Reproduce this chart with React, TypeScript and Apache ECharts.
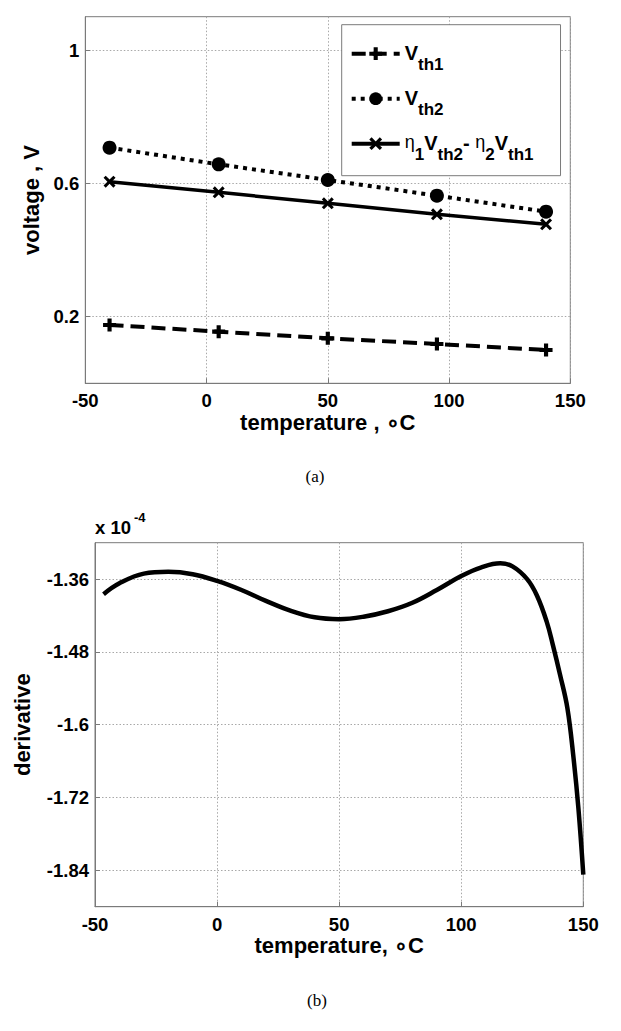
import { useEffect, useRef } from "react";
import * as echarts from "echarts";

// ---------- data: chart (a) ----------
const temps = [-40, 5, 50, 95, 140];
const vth1 = [0.175, 0.155, 0.135, 0.118, 0.1];
const vth2 = [0.707, 0.657, 0.61, 0.563, 0.515];
const combo = [0.605, 0.573, 0.54, 0.507, 0.477];
const xTicks = [-50, 0, 50, 100, 150];
const voltTicks = [0.2, 0.6, 1];

// ---------- data: chart (b) (values in units of 1e-4) ----------
const derivT = [-46.5, -40, -30, -20, -10, 0, 10, 20, 30, 40, 50, 60, 70, 80, 90, 100, 108, 116, 121, 127, 131, 135, 137.5, 140.5, 143.5, 146, 148, 150];
const derivV = [-1.385, -1.367, -1.351, -1.348, -1.352, -1.363, -1.378, -1.396, -1.412, -1.423, -1.426, -1.422, -1.413, -1.399, -1.378, -1.355, -1.341, -1.334, -1.339, -1.36, -1.387, -1.43, -1.468, -1.518, -1.573, -1.655, -1.738, -1.847];
const derivTicks = [-1.84, -1.72, -1.6, -1.48, -1.36];

const FONT = "'Liberation Sans', Arial, Helvetica, sans-serif";
const FRAME = "#7a7a7a";
const GRIDC = "#a8a8a8";

const PLUS = "path://M3.4,0H6.6V3.4H10V6.6H6.6V10H3.4V6.6H0V3.4H3.4Z";
const CROSS = "path://M0,1.8L1.8,0L5,3.2L8.2,0L10,1.8L6.8,5L10,8.2L8.2,10L5,6.8L1.8,10L0,8.2L3.2,5Z";

const legendText: Record<string, string> = {
  Vth1: "{v|V}{s|th1}",
  Vth2: "{v|V}{s|th2}",
  Combo: "{e|η}{n|1}{v|V}{s|th2}{v|- }{e|η}{n|2}{v|V}{s|th1}",
};

function axisCommon(name: string, gap: number) {
  return {
    name,
    nameLocation: "middle",
    nameGap: gap,
    nameTextStyle: { fontFamily: FONT, fontWeight: "bold", fontSize: 22, color: "#000" },
    axisLine: { show: true, onZero: false, lineStyle: { color: FRAME, width: 1 } },
    axisTick: { show: true, inside: true, length: 5, lineStyle: { color: FRAME } },
    splitLine: { show: true, lineStyle: { color: GRIDC, width: 1, type: [1.5, 2] } },
  };
}

export default function App() {
  const ref = useRef<HTMLDivElement>(null);
  useEffect(() => {
    if (!ref.current) return;
    const chart = echarts.init(ref.current, null, { renderer: "svg" });
    const labelStyle = { fontFamily: FONT, fontWeight: "bold", fontSize: 18.5, color: "#000" };
    const option: any = {
      animation: false,
      backgroundColor: "#fff",
      grid: [
        { left: 85.3, top: 16.7, width: 485, height: 366.6, show: true, borderColor: FRAME, borderWidth: 1, outerBoundsMode: "none" },
        { left: 95, top: 542.7, width: 488.3, height: 364, show: true, borderColor: FRAME, borderWidth: 1, outerBoundsMode: "none" },
      ],
      xAxis: [
        {
          ...axisCommon("temperature , ∘C", 22),
          gridIndex: 0, type: "value", min: xTicks[0], max: xTicks[xTicks.length - 1], interval: 50,
          axisLabel: { ...labelStyle, margin: 8 },
        },
        {
          ...axisCommon("temperature, ∘C", 22),
          gridIndex: 1, type: "value", min: xTicks[0], max: xTicks[xTicks.length - 1], interval: 50,
          axisLabel: { ...labelStyle, margin: 8 },
        },
      ],
      yAxis: [
        {
          ...axisCommon("voltage , V", 40),
          gridIndex: 0, type: "value", min: 0, max: 1.1,
          axisLabel: { ...labelStyle, margin: 6, customValues: voltTicks },
          axisTick: { show: true, inside: true, length: 5, lineStyle: { color: FRAME }, customValues: voltTicks },
        },
        {
          ...axisCommon("derivative", 62),
          gridIndex: 1, type: "value", min: -1.9, max: -1.3,
          axisLabel: { ...labelStyle, margin: 6, customValues: derivTicks },
          axisTick: { show: true, inside: true, length: 5, lineStyle: { color: FRAME }, customValues: derivTicks },
        },
      ],
      legend: {
        orient: "vertical",
        left: 341.7,
        top: 24.7,
        padding: [18, 27, 13, 8],
        itemGap: 15,
        itemWidth: 48,
        itemHeight: 16,
        backgroundColor: "#fff",
        borderColor: FRAME,
        borderWidth: 1,
        lineStyle: { width: 4 },
        data: ["Vth1", "Vth2", "Combo"],
        formatter: (name: string) => legendText[name],
        textStyle: {
          color: "#000",
          rich: {
            v: { fontFamily: FONT, fontWeight: "bold", fontSize: 20, lineHeight: 22, verticalAlign: "top", color: "#000" },
            s: { fontFamily: FONT, fontWeight: "bold", fontSize: 17, lineHeight: 16, verticalAlign: "top", padding: [13, 0, 0, 0], color: "#000" },
            e: { fontFamily: FONT, fontWeight: "normal", fontSize: 18, lineHeight: 22, verticalAlign: "top", color: "#000" },
            n: { fontFamily: FONT, fontWeight: "bold", fontSize: 17, lineHeight: 16, verticalAlign: "top", padding: [13, 0, 0, 0], color: "#000" },
          },
        },
      },
      series: [
        {
          name: "Vth1", type: "line", xAxisIndex: 0, yAxisIndex: 0,
          data: temps.map((t, i) => [t, vth1[i]]),
          symbol: PLUS, symbolSize: 13,
          lineStyle: { color: "#000", width: 4, type: [14, 7] },
          itemStyle: { color: "#000" },
        },
        {
          name: "Vth2", type: "line", xAxisIndex: 0, yAxisIndex: 0,
          data: temps.map((t, i) => [t, vth2[i]]),
          symbol: "circle", symbolSize: 14,
          lineStyle: { color: "#000", width: 4, type: [4, 5] },
          itemStyle: { color: "#000" },
        },
        {
          name: "Combo", type: "line", xAxisIndex: 0, yAxisIndex: 0,
          data: temps.map((t, i) => [t, combo[i]]),
          symbol: CROSS, symbolSize: 12,
          lineStyle: { color: "#000", width: 3.5, type: "solid" },
          itemStyle: { color: "#000" },
        },
        {
          name: "derivative", type: "line", xAxisIndex: 1, yAxisIndex: 1,
          data: derivT.map((t, i) => [t, derivV[i]]),
          showSymbol: false, symbol: "none", smooth: 0.4,
          lineStyle: { color: "#000", width: 4.5 },
        },
      ],
      graphic: [
        { type: "text", x: 95, y: 527.5, style: { text: "x 10", fontFamily: FONT, fontWeight: "bold", fontSize: 18.5, fill: "#000", verticalAlign: "middle" } },
        { type: "text", x: 134, y: 517, style: { text: "-4", fontFamily: FONT, fontWeight: "bold", fontSize: 13, fill: "#000", verticalAlign: "middle" } },
        { type: "text", x: 315, y: 476, style: { text: "(a)", fontFamily: "'Liberation Serif', 'Times New Roman', serif", fontSize: 17, fill: "#000", align: "center", verticalAlign: "middle" } },
        { type: "text", x: 317, y: 1000, style: { text: "(b)", fontFamily: "'Liberation Serif', 'Times New Roman', serif", fontSize: 17, fill: "#000", align: "center", verticalAlign: "middle" } },
      ],
    };
    chart.setOption(option);
    return () => chart.dispose();
  }, []);
  return <div ref={ref} style={{ position: "absolute", left: 0, top: 0, width: 621, height: 1031 }} />;
}
